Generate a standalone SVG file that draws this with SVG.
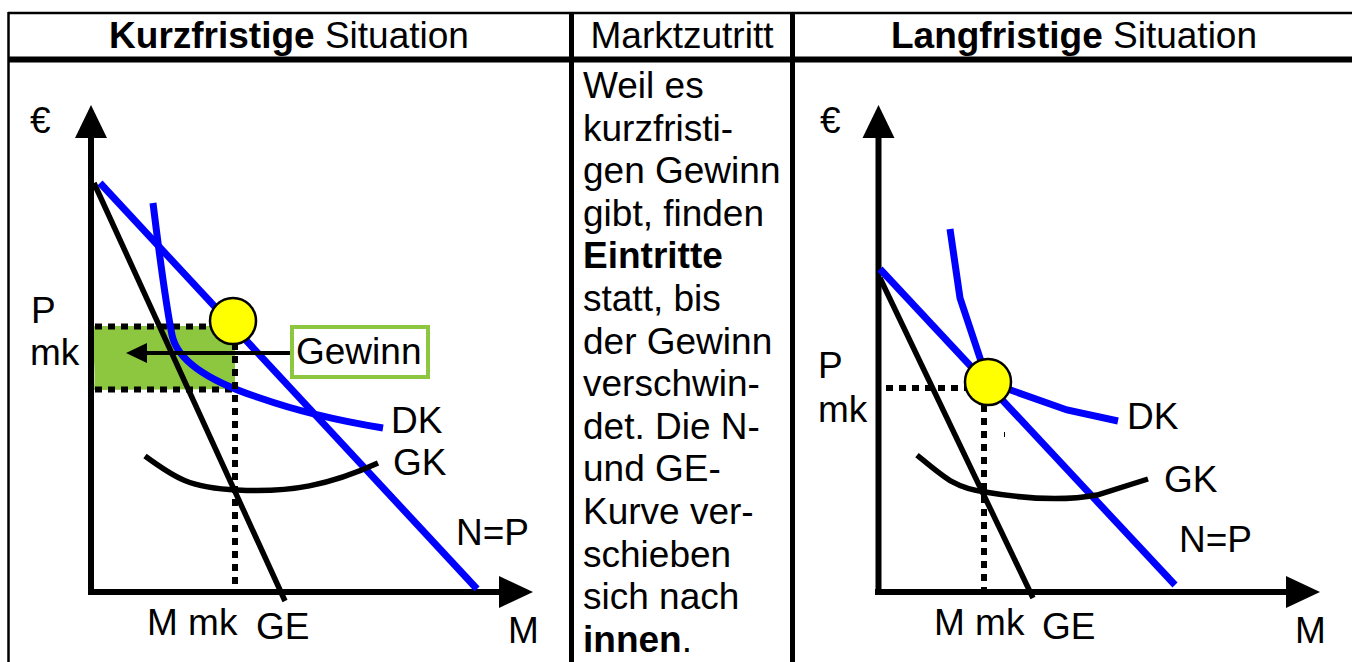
<svg xmlns="http://www.w3.org/2000/svg" width="1352" height="662" viewBox="0 0 1352 662">
<style>
text{font-family:"Liberation Sans",Arial,sans-serif;font-size:37px;fill:#000}
.b{font-weight:bold}
.grid{stroke:#000;fill:none}
.axis{stroke:#000;stroke-width:6;fill:none}
.blue{stroke:#0000FF;stroke-width:7;fill:none}
.blk{stroke:#000;stroke-width:5.5;fill:none}
.dot{stroke:#000;stroke-width:6;stroke-dasharray:7 6;fill:none}
.sun{fill:#FFFF00;stroke:#000;stroke-width:2.5}
</style>
<rect width="1352" height="662" fill="#fff"/>
<g id="table">
<line class="grid" x1="8" y1="13" x2="1352" y2="13" stroke-width="2.5"/>
<line class="grid" x1="8.5" y1="12" x2="8.5" y2="662" stroke-width="2.5"/>
<line class="grid" x1="8" y1="59.5" x2="1352" y2="59.5" stroke-width="6"/>
<line class="grid" x1="571.5" y1="12" x2="571.5" y2="662" stroke-width="5"/>
<line class="grid" x1="792.5" y1="12" x2="792.5" y2="662" stroke-width="5"/>
</g>
<g id="headers">
<text x="289" y="48" text-anchor="middle"><tspan class="b">Kurzfristige</tspan> Situation</text>
<text x="682" y="48" text-anchor="middle">Marktzutritt</text>
<text x="1074" y="48" text-anchor="middle"><tspan class="b">Langfristige</tspan> Situation</text>
</g>
<g id="middle-text">
<text x="583" y="98">Weil es</text>
<text x="583" y="140.6">kurzfristi-</text>
<text x="583" y="183.2">gen Gewinn</text>
<text x="583" y="225.8">gibt, finden</text>
<text x="583" y="268.4" class="b">Eintritte</text>
<text x="583" y="311">statt, bis</text>
<text x="583" y="353.6">der Gewinn</text>
<text x="583" y="396.2">verschwin-</text>
<text x="583" y="438.8">det. Die N-</text>
<text x="583" y="481.4">und GE-</text>
<text x="583" y="524">Kurve ver-</text>
<text x="583" y="566.6">schieben</text>
<text x="583" y="609.2">sich nach</text>
<text x="583" y="651.8"><tspan class="b">innen</tspan>.</text>
</g>
<g id="short-run">
<g id="profit-area">
<path d="M93,326 L235,326 L235,389 L94,390 C96,370 92,345 93,326 Z" fill="#8DC63F"/>
<line class="dot" x1="95" y1="326.5" x2="212" y2="326.5"/>
<line class="dot" x1="95" y1="389.5" x2="236" y2="389.5"/>
</g>
<g id="axes-left">
<line class="axis" x1="91" y1="136" x2="91" y2="595"/>
<line class="axis" x1="88" y1="592" x2="502" y2="592"/>
<polygon points="91,105 75,138 107,138"/>
<polygon points="533,592 499,576 499,608"/>
</g>
<g id="curves-left">
<line class="blk" x1="94" y1="183" x2="285" y2="601"/>
<line class="blue" x1="100" y1="183" x2="477" y2="589"/>
<path class="blue" d="M153,203 C160,260 165,300 172,335 C178,365 220,385 260,398 C300,412 340,421 383,428"/>
<path class="blk" d="M145,456 C175,478 190,488 237,490 C290,493 330,485 378,463"/>
<line class="dot" x1="235" y1="343" x2="235" y2="589"/>
</g>
<circle class="sun" cx="233" cy="321" r="23"/>
<g id="gewinn">
<line stroke="#000" stroke-width="4" x1="292" y1="353" x2="140" y2="353"/>
<polygon points="126,353 147,343 147,363"/>
<rect x="292" y="327" width="136" height="50" fill="#fff" stroke="#8DC63F" stroke-width="4"/>
<text x="296" y="364">Gewinn</text>
</g>
<text x="30" y="133">€</text>
<text x="31" y="323">P</text>
<text x="30" y="365">mk</text>
<text x="391" y="433">DK</text>
<text x="393" y="475">GK</text>
<text x="456" y="545">N=P</text>
<text x="147" y="635">M mk</text>
<text x="256" y="639">GE</text>
<text x="508" y="643">M</text>
</g>
<g id="long-run">
<g id="axes-right">
<line class="axis" x1="878.5" y1="136" x2="878.5" y2="595"/>
<line class="axis" x1="875" y1="592" x2="1290" y2="592"/>
<polygon points="878.5,105 862.5,138 894.5,138"/>
<polygon points="1320,592 1286,576 1286,608"/>
</g>
<g id="curves-right">
<line class="blk" x1="880" y1="278" x2="1033" y2="598"/>
<line class="blue" x1="880" y1="269" x2="1175" y2="585"/>
<polyline class="blue" points="950,229 960,298 988,382 1067,410 1118,421"/>
<path class="blk" d="M917,455 C945,478 955,488 985,492 C1020,498 1060,502 1097,495 L1148,479"/>
<line class="dot" x1="886" y1="388" x2="966" y2="388"/>
<line class="dot" x1="984" y1="405" x2="984" y2="589"/>
<line stroke="#000" stroke-width="1" x1="1004.5" y1="432" x2="1004.5" y2="437"/>
</g>
<circle class="sun" cx="988" cy="382" r="23"/>
<text x="820" y="133">€</text>
<text x="818" y="378">P</text>
<text x="818" y="422">mk</text>
<text x="1127" y="429">DK</text>
<text x="1164" y="492">GK</text>
<text x="1179" y="552">N=P</text>
<text x="934" y="635">M mk</text>
<text x="1042" y="639">GE</text>
<text x="1295" y="643">M</text>
</g>
</svg>
